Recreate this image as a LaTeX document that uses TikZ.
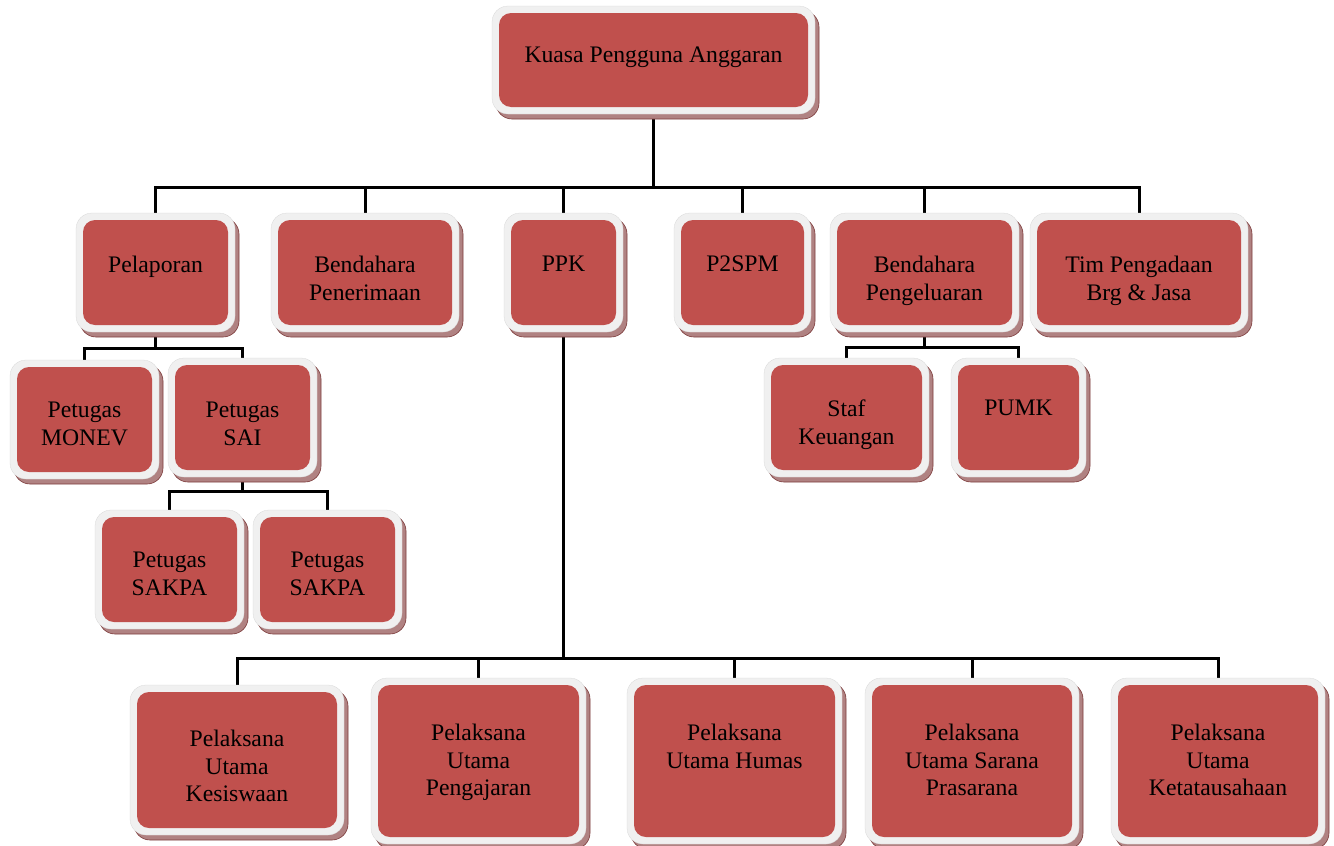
\documentclass[tikz,border=0pt]{standalone}
\usepackage{fontspec}
\setmainfont{Liberation Serif}
\usetikzlibrary{shadows,backgrounds}
\definecolor{boxred}{HTML}{C0504D}
\definecolor{boxgrey}{HTML}{F0F0F0}
\definecolor{shadowfill}{RGB}{176,130,130}
\definecolor{shadowline}{RGB}{125,60,60}
\tikzset{
  outerbox/.style={fill=boxgrey, draw=boxgrey!90!black, line width=0.3pt, rounded corners=16pt, inner sep=0pt,
    drop shadow={shadow xshift=4pt, shadow yshift=-5pt, fill=shadowfill, draw=shadowline, line width=0.6pt, opacity=1}},
  innerbox/.style={fill=boxred, draw=none, rounded corners=12pt, inner sep=0pt},
  lbl/.style={font=\fontsize{23.7}{27.5}\selectfont, align=center, inner sep=0pt, text=black, anchor=north},
  conn/.style={line width=3pt, black, line join=miter},
}
% name, x1, y1, x2, y2, first baseline, text
\newcommand{\orgbox}[7]{%
  \node[outerbox, minimum width={#4-#2+14}, minimum height={#5-#3+14}] (#1-o) at ({(#2+#4)/2},{(#3+#5)/2}) {};
  \node[innerbox, minimum width={#4-#2}, minimum height={#5-#3}] (#1) at ({(#2+#4)/2},{(#3+#5)/2}) {};
  \node[lbl] (#1-t) at ({(#2+#4)/2},{#6-16}) {#7};
}
\begin{document}
\begin{tikzpicture}[x=1pt,y=-1pt]
\useasboundingbox (0,0) rectangle (1334,846);

\orgbox{kpa}{499}{13}{808}{107}{63}{Kuasa Pengguna Anggaran}
\orgbox{pel}{83}{220}{228}{325}{272}{Pelaporan}
\orgbox{bpn}{278}{220}{452}{325}{272}{Bendahara\\Penerimaan}
\orgbox{ppk}{511}{220}{616}{325}{272}{PPK}
\orgbox{p2spm}{681}{220}{804}{325}{272}{P2SPM}
\orgbox{bpg}{837}{220}{1012}{325}{272}{Bendahara\\Pengeluaran}
\orgbox{tim}{1037}{220}{1241}{325}{272}{Tim Pengadaan\\Brg \& Jasa}
\orgbox{monev}{17}{367}{152}{472}{418}{Petugas\\MONEV}
\orgbox{sai}{175}{365}{310}{470}{418}{Petugas\\SAI}
\orgbox{staf}{771}{365}{922}{470}{416}{Staf\\Keuangan}
\orgbox{pumk}{958}{365}{1079}{470}{416}{PUMK}
\orgbox{sakpa1}{102}{517}{237}{622}{568}{Petugas\\SAKPA}
\orgbox{sakpa2}{260}{517}{395}{622}{568}{Petugas\\SAKPA}
\orgbox{kes}{137}{692}{337}{828}{746}{Pelaksana\\Utama\\Kesiswaan}
\orgbox{ajar}{378}{685}{579}{837}{740}{Pelaksana\\Utama\\Pengajaran}
\orgbox{humas}{634}{685}{835}{837}{740}{Pelaksana\\Utama Humas}
\orgbox{sarpras}{872}{685}{1072}{837}{740}{Pelaksana\\Utama Sarana\\Prasarana}
\orgbox{tu}{1118}{685}{1318}{837}{740}{Pelaksana\\Utama\\Ketatausahaan}

\coordinate (b1) at (0,187);
\coordinate (b2) at (0,348);
\coordinate (b3) at (0,491);
\coordinate (b4) at (0,347);
\coordinate (b5) at (0,658);

\begin{pgfonlayer}{background}
\draw[conn] (kpa.south) -- (kpa |- b1);
\draw[conn] (pel.north) -- (pel |- b1) -- (tim |- b1) -- (tim.north);
\foreach \n in {bpn,ppk,p2spm,bpg} \draw[conn] (\n |- b1) -- (\n.north);

\draw[conn] (pel.south) -- (pel |- b2);
\draw[conn] (monev.north) -- (monev |- b2) -- (sai |- b2) -- (sai.north);

\draw[conn] (sai.south) -- (sai |- b3);
\draw[conn] (sakpa1.north) -- (sakpa1 |- b3) -- (sakpa2 |- b3) -- (sakpa2.north);

\draw[conn] (bpg.south) -- (bpg |- b4);
\draw[conn] (staf.north) -- (staf |- b4) -- (pumk |- b4) -- (pumk.north);

\draw[conn] (ppk.south) -- (ppk |- b5);
\draw[conn] (kes.north) -- (kes |- b5) -- (tu |- b5) -- (tu.north);
\foreach \n in {ajar,humas,sarpras} \draw[conn] (\n |- b5) -- (\n.north);
\end{pgfonlayer}
\end{tikzpicture}
\end{document}
